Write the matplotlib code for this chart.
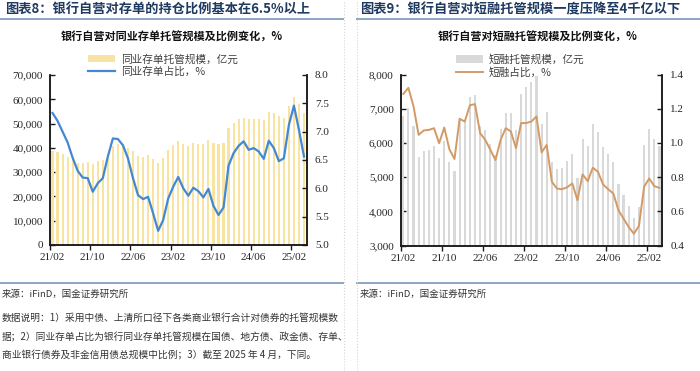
import numpy as np
import matplotlib
matplotlib.use("Agg")
import matplotlib.pyplot as plt
from matplotlib.lines import Line2D
from matplotlib.ticker import StrMethodFormatter

plt.rcParams['font.family'] = ['Noto Sans CJK SC', 'DejaVu Sans']

# 月度数据: 2021/02 - 2025/04, 共 51 个月
tick_labels = ['21/02', '21/10', '22/06', '23/02', '23/10', '24/06', '25/02']

# 图表8: 同业存单托管规模(亿元) 与 占比(%)
cd_scale = [38700, 38300, 37400, 36400, 35300, 33900, 33700, 34300, 33300, 34500,
            35000, 35800, 40700, 41400, 40800, 40000, 38900, 36700, 36400, 37100,
            35400, 33900, 35700, 39100, 41300, 42800, 41600, 40700, 41800, 41600,
            41500, 43200, 42000, 41400, 42200, 48300, 50100, 51900, 52400, 52000,
            52000, 51700, 51600, 54700, 54200, 53300, 52500, 57200, 60800, 58000,
            54200]
cd_ratio = [7.33, 7.19, 7.00, 6.81, 6.54, 6.31, 6.19, 6.18, 5.94, 6.09,
            6.18, 6.56, 6.88, 6.87, 6.76, 6.53, 6.18, 5.88, 5.81, 5.85,
            5.56, 5.25, 5.44, 5.82, 6.03, 6.20, 6.00, 5.87, 6.01, 5.95,
            5.84, 5.99, 5.69, 5.53, 5.66, 6.40, 6.62, 6.75, 6.83, 6.68,
            6.71, 6.65, 6.52, 6.84, 6.71, 6.48, 6.53, 7.12, 7.46, 7.03,
            6.56]

# 图表9: 短融托管规模(亿元) 与 占比(%)
cp_scale = [6800, 7010, 6480, 5600, 5770, 5790, 5920, 5550, 6060, 5430,
            5180, 6700, 6650, 7330, 7390, 6500, 6370, 5970, 5650, 6420,
            6870, 6860, 6380, 7430, 7620, 7790, 7950, 6550, 6890, 5450,
            5240, 5270, 5470, 5670, 4980, 6120, 5920, 6550, 6330, 5890,
            5670, 5450, 4810, 4470, 4160, 3810, 4130, 5940, 6410, 6120,
            5900]
cp_ratio = [1.286, 1.322, 1.214, 1.047, 1.073, 1.076, 1.086, 0.998, 1.090, 0.963,
            0.906, 1.141, 1.125, 1.220, 1.227, 1.057, 1.018, 0.959, 0.900, 1.018,
            1.086, 1.067, 0.969, 1.116, 1.116, 1.125, 1.155, 0.945, 0.988, 0.773,
            0.733, 0.729, 0.741, 0.763, 0.665, 0.816, 0.776, 0.855, 0.831, 0.757,
            0.729, 0.704, 0.606, 0.557, 0.508, 0.469, 0.514, 0.743, 0.792, 0.747,
            0.737]

W, H = 700, 371
fig = plt.figure(figsize=(7, 3.71), dpi=100)


def fx(px):
    return px / W


def fy(py):
    return 1 - py / H


TICK_FONT = dict(family='Liberation Serif', size=8)


def panel(box, bars, ratio, bar_color, line_color, lw, ylim_l, step_l, fmt_l,
          ylim_r, step_r, bar_label, line_label, leg_xy, title, title_x):
    l, r, t, b = box
    ax = fig.add_axes([fx(l), fy(b), fx(r) - fx(l), fy(t) - fy(b)])
    x = np.arange(len(bars))
    hb = ax.bar(x, bars, width=0.42, color=bar_color, label=bar_label, zorder=2)
    ax.set_xlim(-0.5, len(bars) - 0.5)
    ax.set_ylim(*ylim_l)
    ax.set_yticks(np.arange(ylim_l[0], ylim_l[1] + 1, step_l))
    ax.yaxis.set_major_formatter(StrMethodFormatter(fmt_l))

    ax2 = ax.twinx()
    hl, = ax2.plot(x, ratio, color=line_color, lw=lw, label=line_label, zorder=3)
    ax2.set_ylim(*ylim_r)
    ax2.set_yticks(np.arange(ylim_r[0], ylim_r[1] + 1e-6, step_r))
    ax2.yaxis.set_major_formatter(StrMethodFormatter('{x:.1f}'))

    # 标签居中于类别, 刻度线在类别边界
    ax.set_xticks(np.arange(0, len(bars), 8))
    ax.set_xticklabels(tick_labels)
    ax.set_xticks(np.arange(0, len(bars), 8) - 0.5, minor=True)
    ax.tick_params(axis='x', which='major', length=0, pad=6)
    ax.tick_params(axis='x', which='minor', length=3.5, width=1, direction='out',
                   color='#1a1a1a')
    ax.tick_params(axis='y', direction='in', length=3.5, width=1, pad=5,
                   color='#1a1a1a')
    ax2.tick_params(axis='y', direction='in', length=3.5, width=1, pad=6,
                    color='#1a1a1a')
    for a in (ax, ax2):
        for lab in a.get_xticklabels() + a.get_yticklabels():
            lab.set_fontfamily(TICK_FONT['family'])
            lab.set_fontsize(TICK_FONT['size'])
            lab.set_color('#262626')
        a.spines['top'].set_visible(False)
        for s in ('left', 'right', 'bottom'):
            a.spines[s].set_color('#1a1a1a')
            a.spines[s].set_linewidth(1.1)

    ax2.legend(handles=[hb, hl], loc='upper left',
               bbox_to_anchor=(fx(leg_xy[0]), fy(leg_xy[1])),
               bbox_transform=fig.transFigure, frameon=False, fontsize=7.7,
               borderpad=0, borderaxespad=0, handlelength=2.5,
               handletextpad=0.55, labelspacing=0.2, labelcolor='#404040')
    fig.text(fx(title_x), fy(37), title, ha='center', va='center',
             fontsize=8, fontweight='bold', color='#111111')


panel((50, 306.5, 75, 245), cd_scale, cd_ratio, '#F9E3A0', '#4288D2', 1.6,
      (0, 70000), 10000, '{x:,.0f}', (5.0, 8.0), 0.5,
      '同业存单托管规模，亿元', '同业存单占比，%', (88, 54),
      '银行自营对同业存单托管规模及比例变化，%', 171.5)

panel((400.7, 662, 74.5, 245.5), cp_scale, cp_ratio, '#D9D9D9', '#D39A66', 1.4,
      (3000, 8000), 1000, '{x:,.0f}', (0.4, 1.4), 0.2,
      '短融托管规模，亿元', '短融占比，%', (456, 54),
      '银行自营对短融托管规模及比例变化，%', 537.5)

# 页眉与分隔线
head_color = '#1F3A60'
fig.text(fx(5), fy(9.5), '图表8：银行自营对存单的持仓比例基本在6.5%以上',
         ha='left', va='center', fontsize=9.5, fontweight='bold', color=head_color)
fig.text(fx(360), fy(9.5), '图表9：银行自营对短融托管规模一度压降至4千亿以下',
         ha='left', va='center', fontsize=9.5, fontweight='bold', color=head_color)

for y in (18.5, 282.5):
    for x0, x1 in ((0, 343), (357, 700)):
        fig.add_artist(Line2D([fx(x0), fx(x1)], [fy(y), fy(y)],
                              color='#8EA6C4', lw=1.4))
for x in (343.5, 357):
    fig.add_artist(Line2D([fx(x), fx(x)], [0, 1], color='#D5D5D5', lw=0.8,
                          ls=':'))

note_color = '#333333'
fig.text(fx(2), fy(294), '来源：iFinD，国金证券研究所', ha='left', va='center',
         fontsize=6.8, color=note_color)
fig.text(fx(360), fy(294), '来源：iFinD，国金证券研究所', ha='left', va='center',
         fontsize=6.8, color=note_color)
notes = ['数据说明：1）采用中债、上清所口径下各类商业银行合计对债券的托管规模数',
         '据；2）同业存单占比为银行同业存单托管规模在国债、地方债、政金债、存单、',
         '商业银行债券及非金信用债总规模中比例；3）截至 2025 年 4 月，下同。']
for y, line in zip((318, 337, 355), notes):
    fig.text(fx(2), fy(y), line, ha='left', va='center', fontsize=7,
             color=note_color)

fig.savefig('out.png', dpi=100)
